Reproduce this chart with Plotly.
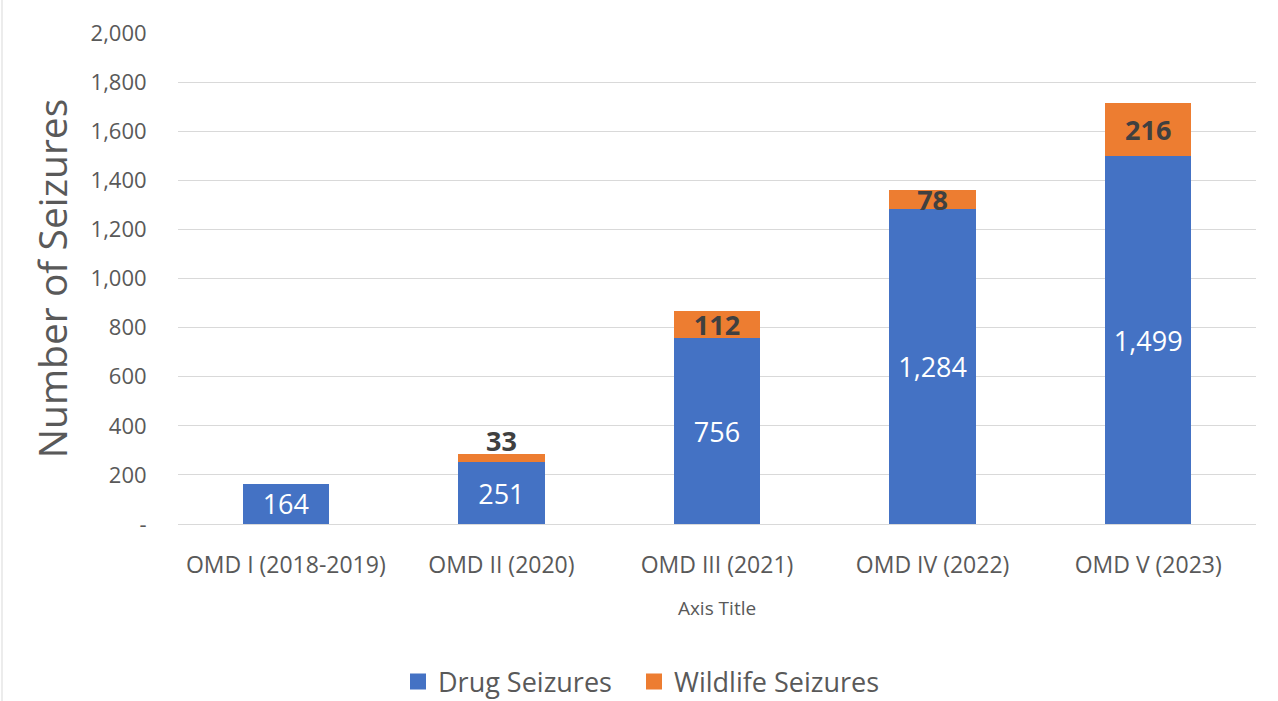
import plotly.graph_objects as go

categories = ["OMD I (2018-2019)", "OMD II (2020)", "OMD III (2021)", "OMD IV (2022)", "OMD V (2023)"]
drug = [164, 251, 756, 1284, 1499]
wildlife = [None, 33, 112, 78, 216]
wildlife_label_pos = ["none", "above", "inside", "inside", "inside"]
tick_vals = [0, 200, 400, 600, 800, 1000, 1200, 1400, 1600, 1800, 2000]
tick_text = ["-", "200", "400", "600", "800", "1,000", "1,200", "1,400", "1,600", "1,800", "2,000"]

FONT = "Open Sans"
BLUE = "#4472C4"
ORANGE = "#ED7D31"

fig = go.Figure()
fig.add_trace(go.Bar(
    x=categories, y=drug, name="Drug Seizures", showlegend=False,
    marker=dict(color=BLUE, line=dict(width=0)),
    text=[f"{v:,}" for v in drug], textposition="inside", insidetextanchor="middle",
    textfont=dict(family=FONT, size=27, color="white"), constraintext="none",
    textangle=0,
))
fig.add_trace(go.Bar(
    x=categories, y=wildlife, name="Wildlife Seizures", showlegend=False,
    marker=dict(color=ORANGE, line=dict(width=0)),
    text=["" if v is None else f"<b>{v:,}</b>" for v in wildlife],
    textposition=["inside" if p == "inside" else "none" for p in wildlife_label_pos],
    insidetextanchor="middle",
    textfont=dict(family=FONT, size=27, color="#404040"), constraintext="none",
    textangle=0, cliponaxis=False,
))
# labels that sit above their (too thin) segment
for c, d, w, p in zip(categories, drug, wildlife, wildlife_label_pos):
    if p == "above":
        fig.add_annotation(x=c, y=d + w, text=f"<b>{w:,}</b>", showarrow=False,
                           yanchor="middle", yshift=14,
                           font=dict(family=FONT, size=27, color="#404040"))

# legend entries with larger square swatches, each in its own legend box
for nm, col, lg in [("Drug Seizures", BLUE, "legend"), ("Wildlife Seizures", ORANGE, "legend2")]:
    fig.add_trace(go.Scatter(
        x=[None], y=[None], mode="markers", name=nm, legend=lg,
        marker=dict(symbol="square", size=18, color=col), showlegend=True,
    ))

leg_common = dict(
    orientation="h", xref="container", yref="container",
    xanchor="left", y=(701 - 682) / 701, yanchor="middle",
    font=dict(family=FONT, size=27, color="#595959"), itemwidth=30,
    bgcolor="rgba(0,0,0,0)",
)
fig.update_layout(
    barmode="stack",
    bargap=0.6,
    width=1278, height=701,
    margin=dict(l=178, r=22, t=33, b=177, autoexpand=False),
    plot_bgcolor="white", paper_bgcolor="white",
    font=dict(family=FONT, color="#595959"),
    showlegend=True,
    legend=dict(x=398 / 1278, **leg_common),
    legend2=dict(x=634 / 1278, **leg_common),
)
fig.update_yaxes(
    range=[0, 2000], tickvals=tick_vals, ticktext=tick_text,
    showgrid=True, gridcolor="#D9D9D9", gridwidth=1,
    zeroline=True, zerolinecolor="#D9D9D9", zerolinewidth=1,
    tickfont=dict(family=FONT, size=22, color="#595959"),
    ticks="outside", ticklen=26, tickcolor="rgba(0,0,0,0)",
    title=dict(text="Number of Seizures", font=dict(family=FONT, size=39, color="#595959"), standoff=10),
    showline=False, fixedrange=True, automargin=False,
)
fig.update_xaxes(
    showgrid=False, showline=False,
    tickfont=dict(family=FONT, size=23, color="#595959"),
    ticks="outside", ticklen=20, tickcolor="rgba(0,0,0,0)",
    title=dict(text="Axis Title", font=dict(family=FONT, size=19, color="#595959"), standoff=23),
    fixedrange=True, automargin=False,
)
fig.add_shape(type="line", xref="paper", yref="paper",
              x0=-176/1078, x1=-176/1078, y0=-177/491, y1=1 + 33/491,
              line=dict(color="#D9D9D9", width=1))

fig.write_html("out.html", config={"displayModeBar": False},
               post_script="document.body.style.margin='0';document.body.style.padding='0';")
